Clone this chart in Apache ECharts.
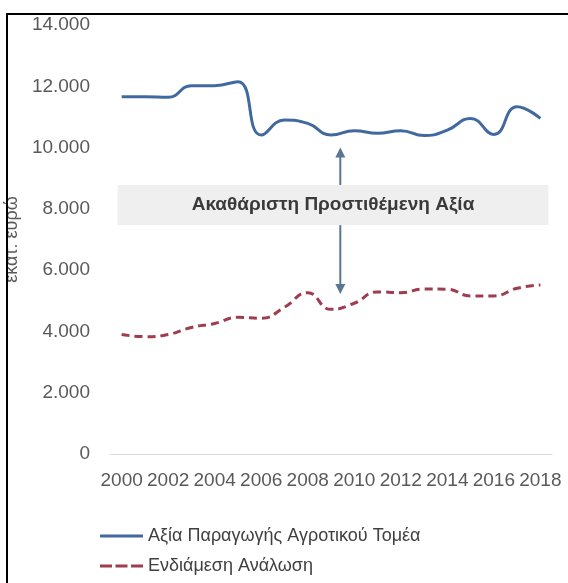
<!DOCTYPE html>
<html>
<head>
<meta charset="utf-8">
<script src="https://cdn.jsdelivr.net/npm/echarts@6/dist/echarts.min.js"></script>
<style>
  html, body { margin: 0; padding: 0; background: #fff; }
  #chart { width: 568px; height: 583px; }
</style>
</head>
<body>
<div id="chart"></div>
<script>
    // ετήσια στοιχεία (εκατ. ευρώ), διαβασμένα από το γράφημα
    var years = ['2000', '2001', '2002', '2003', '2004', '2005', '2006', '2007', '2008', '2009',
                 '2010', '2011', '2012', '2013', '2014', '2015', '2016', '2017', '2018'];
    var productionValue = [11660, 11660, 11640, 12020, 12020, 12150, 10410, 10900, 10790, 10410,
                           10550, 10470, 10550, 10390, 10570, 10950, 10430, 11330, 10950];
    var intermediateUse = [3900, 3830, 3900, 4130, 4260, 4460, 4430, 4790, 5265, 4720,
                           4920, 5290, 5265, 5385, 5375, 5160, 5160, 5410, 5515];
    var yTicks = [0, 2000, 4000, 6000, 8000, 10000, 12000, 14000];

    var seriesNames = ['Αξία Παραγωγής Αγροτικού Τομέα', 'Ενδιάμεση Ανάλωση'];
    var noteText = 'Ακαθάριστη Προστιθέμενη Αξία';

    var font = 'Liberation Sans';
    var blue = '#41699f';
    var red = '#9e3d50';
    var chart = echarts.init(document.getElementById('chart'));

    // 14000 -> "14.000"
    function fmt(v) {
        return String(v).replace(/\B(?=(\d{3})+(?!\d))/g, '.');
    }

    var option = {
        animation: false,
        textStyle: { fontFamily: font },
        grid: {
            left: 110,
            right: 16,
            top: 25,
            bottom: 129,
            outerBoundsMode: 'none'
        },
        legend: {
            orient: 'vertical',
            left: 100,
            top: 527,
            height: 80,
            padding: 0,
            itemWidth: 43,
            itemHeight: 3,
            itemGap: 12,
            textStyle: { fontSize: 18, color: '#404040', fontFamily: font },
            data: [
                { name: seriesNames[0], icon: 'path://M0,0H43V3H0Z' },
                { name: seriesNames[1], icon: 'path://M0,0H12V3H0Z M15.5,0H27.5V3H15.5Z M31,0H43V3H31Z' }
            ]
        },
        xAxis: {
            type: 'category',
            data: years,
            boundaryGap: true,
            axisTick: { show: false },
            axisLine: { lineStyle: { color: '#d9d9d9', width: 1 } },
            axisLabel: {
                interval: 1,
                margin: 17,
                fontSize: 19,
                color: '#595959'
            }
        },
        yAxis: {
            type: 'value',
            min: yTicks[0],
            max: yTicks[yTicks.length - 1],
            interval: 2000,
            name: 'εκατ. ευρώ',
            nameLocation: 'middle',
            nameRotate: 90,
            nameGap: 79,
            nameTextStyle: { fontSize: 18, color: '#595959' },
            axisLine: { show: false },
            axisTick: { show: false },
            splitLine: { show: false },
            axisLabel: {
                margin: 20,
                fontSize: 19,
                color: '#595959',
                formatter: fmt
            }
        },
        series: [{
            name: seriesNames[0],
            type: 'line',
            data: productionValue,
            smooth: 0.5,
            symbol: 'none',
            lineStyle: { color: blue, width: 3 },
            itemStyle: { color: blue }
        }, {
            name: seriesNames[1],
            type: 'line',
            data: intermediateUse,
            smooth: 0.5,
            symbol: 'none',
            lineStyle: { color: red, width: 3, type: [8, 5] },
            itemStyle: { color: red }
        }]
    };
    chart.setOption(option);

    // γκρι πλαίσιο με κείμενο και διπλό βέλος ανάμεσα στις δύο καμπύλες
    function drawNotes() {
        var toPx = function (i, v) {
            return chart.convertToPixel({ xAxisIndex: 0, yAxisIndex: 0 }, [years[i], v]);
        };
        var first = toPx(0, 8780);
        var last = toPx(years.length - 1, 7470);
        var a = toPx(9, 10000);
        var b = toPx(10, 5220);
        var ax = a[0] + (b[0] - a[0]) * 0.4;
        var boxTop = first[1], boxBottom = last[1];
        var boxLeft = first[0] - 4, boxRight = last[0] + 8;
        var arrowColor = '#5b7594';

        chart.setOption({
            graphic: [{
                type: 'rect',
                shape: { x: boxLeft, y: boxTop, width: boxRight - boxLeft, height: boxBottom - boxTop },
                style: { fill: '#efefef' },
                z: 10
            }, {
                type: 'text',
                x: (boxLeft + boxRight) / 2,
                y: (boxTop + boxBottom) / 2,
                style: {
                    text: noteText,
                    fontFamily: font,
                    fontSize: 19,
                    fontWeight: 'bold',
                    fill: '#3a3a3a',
                    align: 'center',
                    verticalAlign: 'middle'
                },
                z: 11
            }, {
                type: 'line',
                shape: { x1: ax, y1: a[1] + 8, x2: ax, y2: boxTop },
                style: { stroke: arrowColor, lineWidth: 2 },
                z: 10
            }, {
                type: 'polygon',
                shape: { points: [[ax, a[1]], [ax - 5, a[1] + 10], [ax + 5, a[1] + 10]] },
                style: { fill: arrowColor },
                z: 10
            }, {
                type: 'line',
                shape: { x1: ax, y1: boxBottom, x2: ax, y2: b[1] - 8 },
                style: { stroke: arrowColor, lineWidth: 2 },
                z: 10
            }, {
                type: 'polygon',
                shape: { points: [[ax, b[1]], [ax - 5, b[1] - 10], [ax + 5, b[1] - 10]] },
                style: { fill: arrowColor },
                z: 10
            }, {
                // μαύρο περίγραμμα της εικόνας
                type: 'rect',
                shape: { x: 7, y: 14, width: 600, height: 620 },
                style: { fill: 'none', stroke: '#000', lineWidth: 2 },
                z: 20
            }]
        });
    }
    drawNotes();
</script>
</body>
</html>
